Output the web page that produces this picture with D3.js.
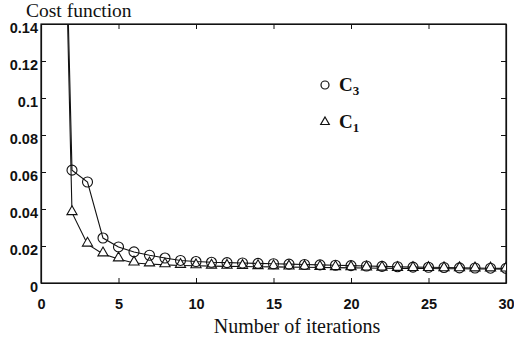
<!DOCTYPE html>
<html>
<head>
<meta charset="utf-8">
<script src="https://cdn.jsdelivr.net/npm/d3@7"></script>
<style>
  body { margin: 0; background: #fff; }
  .tick text { font-family: "Liberation Sans", Arial, sans-serif; font-weight: bold; font-size: 14.5px; fill: #111; }
  .serif { font-family: "Liberation Serif", "Times New Roman", serif; fill: #111; }
</style>
</head>
<body>
<div id="chart"></div>
<script>
// iteration numbers
const iterations = d3.range(1, 31);
// cost function values
const c3Values = [0.40, 0.061, 0.0546, 0.0243, 0.0195, 0.0168, 0.015, 0.0135, 0.0122, 0.0116,
                  0.0112, 0.0110, 0.0108, 0.0106, 0.0104, 0.0102, 0.0100, 0.0098, 0.0096, 0.0094,
                  0.0092, 0.0090, 0.0088, 0.0086, 0.0085, 0.0084, 0.0082, 0.0081, 0.0080, 0.0079];
const c1Values = [0.40, 0.038, 0.021, 0.0157, 0.013, 0.0108, 0.0103, 0.0098, 0.0095, 0.0093,
                  0.0091, 0.0090, 0.0089, 0.0088, 0.0087, 0.0086, 0.0085, 0.0084, 0.0083, 0.0082,
                  0.0081, 0.0080, 0.0079, 0.0078, 0.0078, 0.0077, 0.0077, 0.0076, 0.0076, 0.0075];
const xTicks = [0, 5, 10, 15, 20, 25, 30];
const yTicks = [0, 0.02, 0.04, 0.06, 0.08, 0.1, 0.12, 0.14];

const W = 514, H = 339;
const margin = {top: 24, right: 8, bottom: 56, left: 41};
const width = W - margin.left - margin.right;
const height = H - margin.top - margin.bottom;

const svg = d3.select("#chart").append("svg")
    .attr("width", W)
    .attr("height", H);

const g = svg.append("g")
    .attr("transform", "translate(" + margin.left + "," + margin.top + ")");

const x = d3.scaleLinear().domain([0, 30]).range([0, width]);
const y = d3.scaleLinear().domain([0, 0.14]).range([height, 0]);

svg.append("defs").append("clipPath")
    .attr("id", "plot-clip")
    .append("rect")
    .attr("width", width)
    .attr("height", height);

// box
g.append("rect")
    .attr("width", width)
    .attr("height", height)
    .attr("fill", "none")
    .attr("stroke", "#111")
    .attr("stroke-width", 1.2);

// axes with inward ticks
const xAxis = d3.axisBottom(x).tickValues(xTicks).tickSizeInner(-5).tickSizeOuter(0).tickPadding(16);
const yAxis = d3.axisLeft(y).tickValues(yTicks).tickSizeInner(-5).tickSizeOuter(0).tickPadding(3)
    .tickFormat(d => d === 0 ? "0" : d3.format("")(+d.toFixed(2)));

g.append("g").attr("class", "x-axis").attr("transform", "translate(0," + height + ")").call(xAxis);
g.append("g").attr("class", "y-axis").call(yAxis);
g.select(".y-axis").selectAll(".tick text").attr("dy", "0.6em");
g.append("g").attr("class", "x-top").call(d3.axisTop(x).tickValues(xTicks).tickSizeInner(-5).tickSizeOuter(0).tickFormat(""));
g.append("g").attr("class", "y-right").attr("transform", "translate(" + width + ",0)")
    .call(d3.axisRight(y).tickValues(yTicks).tickSizeInner(-5).tickSizeOuter(0).tickFormat(""));
g.selectAll(".domain").attr("stroke", "#111").attr("stroke-width", 1.2);
g.selectAll(".tick line").attr("stroke", "#111");

// lines
const line = d3.line().x(d => x(d[0])).y(d => y(d[1]));
const c3 = iterations.map((it, i) => [it, c3Values[i]]);
const c1 = iterations.map((it, i) => [it, c1Values[i]]);

const plot = g.append("g").attr("clip-path", "url(#plot-clip)");
[c3, c1].forEach(s => {
    plot.append("path")
        .datum(s)
        .attr("d", line)
        .attr("fill", "none")
        .attr("stroke", "#111")
        .attr("stroke-width", 1.1);
});

const tri = d3.symbol().type(d3.symbolTriangle).size(45);

plot.selectAll(".c1-mark")
    .data(c1.slice(1))
    .enter().append("path")
    .attr("class", "c1-mark")
    .attr("d", tri)
    .attr("transform", d => "translate(" + x(d[0]) + "," + (y(d[1]) - 1) + ")")
    .attr("fill", "#fff")
    .attr("stroke", "#111")
    .attr("stroke-width", 1.1);

plot.selectAll(".c3-mark")
    .data(c3.slice(1))
    .enter().append("circle")
    .attr("class", "c3-mark")
    .attr("cx", d => x(d[0]))
    .attr("cy", d => y(d[1]))
    .attr("r", 5)
    .attr("fill", "none")
    .attr("stroke", "#111")
    .attr("stroke-width", 1.1);

// legend
const legend = svg.append("g").attr("class", "legend");
legend.append("circle")
    .attr("cx", 325).attr("cy", 85).attr("r", 4)
    .attr("fill", "none").attr("stroke", "#111").attr("stroke-width", 1.2);
legend.append("path")
    .attr("d", d3.symbol().type(d3.symbolTriangle).size(32))
    .attr("transform", "translate(325,122)")
    .attr("fill", "none").attr("stroke", "#111").attr("stroke-width", 1.2);
[["C", "3", 91], ["C", "1", 128]].forEach(l => {
    const t = legend.append("text").attr("class", "serif")
        .attr("x", 339).attr("y", l[2])
        .style("font-size", "19px").style("font-weight", "bold");
    t.append("tspan").text(l[0]);
    t.append("tspan").attr("dy", 4).style("font-size", "13px").text(l[1]);
});

// titles
svg.append("text").attr("class", "serif")
    .attr("x", 26).attr("y", 17)
    .style("font-size", "19.5px")
    .text("Cost function");
svg.append("text").attr("class", "serif")
    .attr("x", 297).attr("y", 333)
    .attr("text-anchor", "middle")
    .style("font-size", "20px")
    .text("Number of iterations");
</script>
</body>
</html>
